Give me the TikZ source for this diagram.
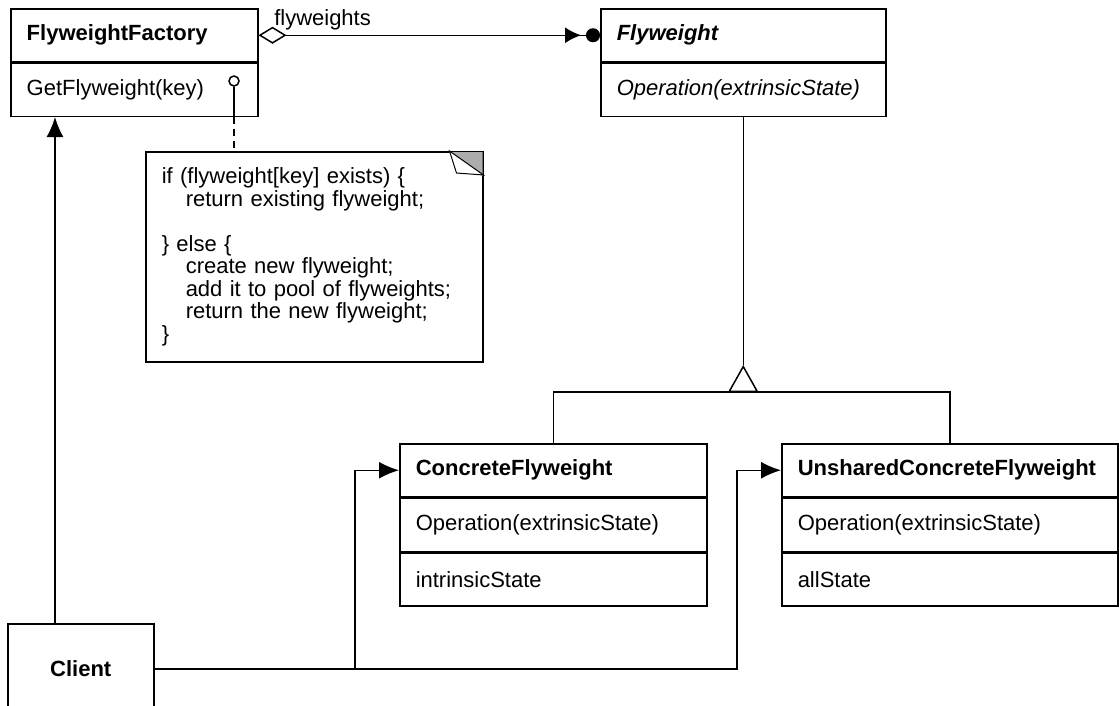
\documentclass[tikz,border=0pt]{standalone}
\usepackage{fontspec}
\setmainfont{Liberation Sans}
\usetikzlibrary{arrows.meta,positioning,calc}

\begin{document}
\begin{tikzpicture}[
    x=1pt, y=-1pt,
    every node/.style={font=\fontsize{22}{22.5}\selectfont},
    member/.style={rectangle, draw, line width=1.5pt, anchor=north west, align=left, inner xsep=16pt, inner ysep=0pt, minimum height=53pt, text width=#1},
    head/.style={member=#1, font=\fontsize{22}{22.5}\selectfont\bfseries},
    link/.style={line width=1.5pt},
    dep/.style={link, -{Latex[length=20pt,width=17pt]}}
]
\useasboundingbox (0,0) rectangle (1119,705);

% Factory class
\node[head=215pt] (fac) at (10,8) {FlyweightFactory};
\node[member=215pt, below=0pt of fac] (fop) {GetFlyweight(key)};

% Flyweight interface
\node[head=253pt, font=\fontsize{22}{22.5}\selectfont\bfseries\itshape] (fw) at (600,8) {Flyweight};
\node[member=253pt, below=0pt of fw, font=\fontsize{22}{22.5}\selectfont\itshape] (fwop) {Operation(extrinsicState)};

% Concrete classes
\node[head=275pt] (cf) at (399,443) {ConcreteFlyweight};
\node[member=275pt, below=0pt of cf] (cfop) {Operation(extrinsicState)};
\node[member=275pt, below=0pt of cfop] (cfst) {intrinsicState};

\node[head=304pt] (ucf) at (781,443) {UnsharedConcreteFlyweight};
\node[member=304pt, below=0pt of ucf] (ucfop) {Operation(extrinsicState)};
\node[member=304pt, below=0pt of ucfop] (ucfst) {allState};

% Client
\node[rectangle, draw, line width=1.5pt, anchor=north west, minimum width=146pt, minimum height=90pt, font=\fontsize{22}{22.5}\selectfont\bfseries] (client) at (7,623) {Client};

% Note on GetFlyweight
\node[member=305pt, minimum height=210pt] (note) at (145,151) {%
if (flyweight[key] exists) \{\\
\hspace*{24pt}return existing flyweight;\\
~\\
\} else \{\\
\hspace*{24pt}create new flyweight;\\
\hspace*{24pt}add it to pool of flyweights;\\
\hspace*{24pt}return the new flyweight;\\
\}};
\fill[gray!65] ([shift={(-1pt,-1pt)}]note.north east) -- ++(-33,0) -- ++(33,24) -- cycle;
\draw[line width=1pt, fill=white] ([xshift=-34pt]note.north east) -- ++(7,22) -- ++(27,2) -- cycle;
\node[circle, draw, line width=1.5pt, minimum size=10pt, inner sep=0pt] (knob) at (234,81) {};
\draw[link] (knob) -- (knob |- fop.south);
\draw[link, dash pattern=on 7pt off 5pt] (knob |- fop.south) -- (knob |- note.north);

% Aggregation
\draw[link, {Diamond[open,length=28pt,width=17pt]}-{Latex[length=16pt,width=16pt,sep=5pt] Circle[length=14pt]}] (fac.east) -- node[pos=0, anchor=south west, xshift=15pt, yshift=4pt, inner sep=0pt] {flyweights} (fw.west);

% Generalization
\coordinate (bar) at (fwop.south |- 0,392);
\coordinate (apex) at ([yshift=27pt]bar);
\draw[link] (cf.north) |- (ucf.north |- bar) -- (ucf.north);
\draw[link, -{Triangle[open,length=27pt,width=30pt]}] (bar) -- (apex);
\draw[link] (apex) -- (fwop.south);

% Client references
\coordinate (cltop) at ([xshift=48pt]client.north west);
\coordinate (cj1) at (355,0);
\coordinate (cj2) at (737,0);
\draw[dep] (cltop) -- (cltop |- fop.south);
\draw[dep] (client.east) -| (cj1 |- cf.west) -- (cf.west);
\draw[dep] (client.east) -| (cj2 |- ucf.west) -- (ucf.west);
\end{tikzpicture}
\end{document}
